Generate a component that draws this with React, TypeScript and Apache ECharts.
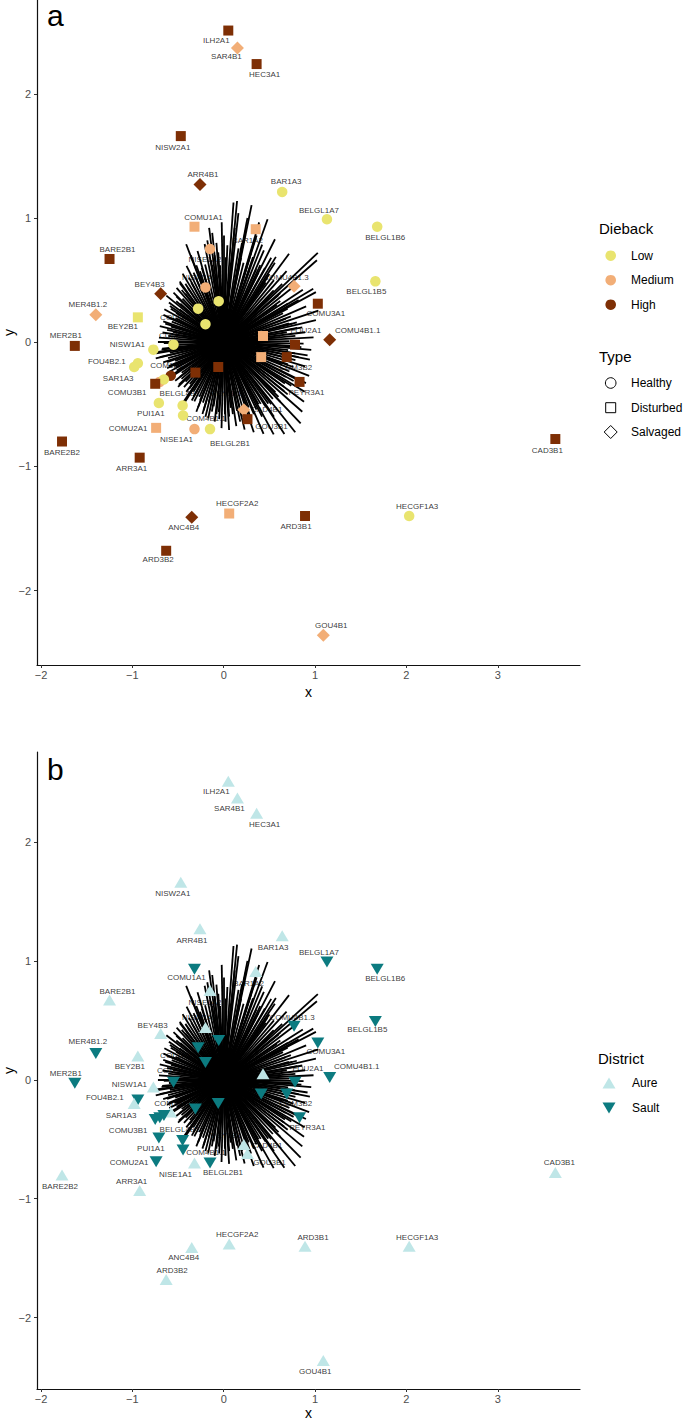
import React, { useEffect, useRef } from "react";
import * as echarts from "echarts";

// ---------- data ----------
const siteNames = [
  "ILH2A1", "SAR4B1", "HEC3A1", "NISW2A1", "ARR4B1", "BAR1A3", "BELGL1A7", "BELGL1B6",
  "COMU1A1", "BAR1A2", "NISE1A2", "BARE2B1", "BELGL1B5", "COMU4B1.3", "NISW1A2", "BEY4B3",
  "COL1A1", "COL2A1", "COMU3A1", "MER4B1.2", "BEY2B1", "COL1A2", "FOU2A2", "COMU4B1.1",
  "FOU2A1", "MER2B1", "COM2B1", "NISW1A1", "FOU1A1", "COM3B2", "FOU4B2.1", "SAR1A3",
  "PEY1B1", "COM2B2", "COM1B1", "SAR1A2", "PUI1A2", "COMU3B1", "PEYR3A1", "PUI1A1",
  "BELGL4B1", "CAD4B1", "COM4B1.1", "GOU3B1", "COMU2A1", "NISE1A1", "BELGL2B1", "CAD3B1",
  "BARE2B2", "ARR3A1", "HECGF2A2", "ARD3B1", "HECGF1A3", "ANC4B4", "ARD3B2", "GOU4B1",
];
const siteX = [
  0.05, 0.15, 0.36, -0.47, -0.26, 0.64, 1.13, 1.68,
  -0.32, 0.35, -0.15, -1.25, 1.66, 0.77, -0.2, -0.69,
  -0.055, -0.28, 1.03, -1.4, -0.94, -0.2, 0.43, 1.16,
  0.78, -1.63, -0.55, -0.77, 0.41, 0.69, -0.94, -0.98,
  -0.06, -0.31, -0.58, -0.7, -0.655, -0.75, 0.83, -0.71,
  -0.45, 0.22, -0.445, 0.26, -0.74, -0.32, -0.15, 3.63,
  -1.77, -0.92, 0.06, 0.89, 2.03, -0.35, -0.63, 1.09,
];
const siteY = [
  2.51, 2.37, 2.24, 1.66, 1.27, 1.21, 0.99, 0.93,
  0.93, 0.91, 0.75, 0.67, 0.49, 0.45, 0.44, 0.39,
  0.33, 0.27, 0.31, 0.22, 0.2, 0.145, 0.05, 0.02,
  -0.02, -0.03, -0.02, -0.06, -0.12, -0.12, -0.17, -0.2,
  -0.2, -0.245, -0.27, -0.32, -0.3, -0.335, -0.32, -0.49,
  -0.51, -0.545, -0.59, -0.62, -0.69, -0.7, -0.7, -0.78,
  -0.8, -0.93, -1.38, -1.4, -1.4, -1.41, -1.68, -2.36,
];
const siteType = [
  "Disturbed", "Salvaged", "Disturbed", "Disturbed", "Salvaged", "Healthy", "Healthy", "Healthy",
  "Disturbed", "Disturbed", "Healthy", "Disturbed", "Healthy", "Salvaged", "Healthy", "Salvaged",
  "Healthy", "Healthy", "Disturbed", "Salvaged", "Disturbed", "Healthy", "Disturbed", "Salvaged",
  "Disturbed", "Disturbed", "Healthy", "Healthy", "Disturbed", "Disturbed", "Healthy", "Healthy",
  "Disturbed", "Disturbed", "Healthy", "Healthy", "Healthy", "Disturbed", "Disturbed", "Healthy",
  "Healthy", "Salvaged", "Healthy", "Disturbed", "Disturbed", "Healthy", "Healthy", "Disturbed",
  "Disturbed", "Disturbed", "Disturbed", "Disturbed", "Healthy", "Salvaged", "Disturbed", "Salvaged",
];
const siteDieback = [
  "High", "Medium", "High", "High", "High", "Low", "Low", "Low",
  "Medium", "Medium", "Medium", "High", "Low", "Medium", "Medium", "High",
  "Low", "Low", "High", "Medium", "Low", "Low", "Medium", "High",
  "High", "High", "Low", "Low", "Medium", "High", "Low", "Low",
  "High", "High", "High", "Medium", "Low", "High", "High", "Low",
  "Low", "Medium", "Low", "High", "Medium", "Medium", "Low", "High",
  "High", "High", "Medium", "High", "Low", "High", "High", "Medium",
];
const siteDistrict = [
  "Aure", "Aure", "Aure", "Aure", "Aure", "Aure", "Sault", "Sault",
  "Sault", "Aure", "Aure", "Aure", "Sault", "Sault", "Aure", "Aure",
  "Sault", "Sault", "Sault", "Sault", "Aure", "Sault", "Aure", "Sault",
  "Sault", "Sault", "Sault", "Aure", "Sault", "Sault", "Sault", "Aure",
  "Sault", "Sault", "Aure", "Sault", "Sault", "Sault", "Sault", "Sault",
  "Sault", "Aure", "Sault", "Aure", "Sault", "Aure", "Sault", "Aure",
  "Aure", "Aure", "Aure", "Aure", "Aure", "Aure", "Aure", "Aure",
];

// species vectors (end points; every vector starts at the origin)
const speciesLoadings: number[][] = [
  [0.918, -0.107], [0.705, -0.064], [0.958, -0.062], [0.764, -0.029], [0.874, -0.011], [0.721, 0.009], [0.983, 0.038], [0.784, 0.05], [0.89, 0.08], [0.691, 0.08],
  [0.805, 0.115], [1.009, 0.178], [0.714, 0.151], [1.036, 0.255], [0.735, 0.208], [0.902, 0.289], [0.649, 0.233], [1.009, 0.403], [0.703, 0.311], [0.866, 0.422],
  [0.619, 0.331], [0.753, 0.441], [0.619, 0.396], [1.03, 0.72], [0.547, 0.417], [0.688, 0.573], [0.55, 0.5], [0.715, 0.712], [0.477, 0.52], [0.571, 0.687],
  [0.451, 0.599], [0.561, 0.829], [0.356, 0.589], [0.421, 0.786], [0.321, 0.685], [0.388, 0.965], [0.217, 0.64], [0.305, 1.104], [0.162, 0.756], [0.161, 1.04],
  [0.107, 1.125], [0.024, 0.684], [-0.022, 0.966], [-0.06, 0.723], [-0.126, 0.881], [-0.126, 0.621], [-0.209, 0.791], [-0.204, 0.626], [-0.287, 0.735], [-0.26, 0.572],
  [-0.411, 0.789], [-0.305, 0.517], [-0.407, 0.615], [-0.355, 0.481], [-0.45, 0.552], [-0.392, 0.436], [-0.482, 0.488], [-0.422, 0.391], [-0.516, 0.438], [-0.451, 0.35],
  [-0.519, 0.369], [-0.475, 0.31], [-0.628, 0.375], [-0.483, 0.263], [-0.589, 0.292], [-0.522, 0.235], [-0.65, 0.265], [-0.528, 0.194], [-0.619, 0.203], [-0.569, 0.165],
  [-0.662, 0.168], [-0.577, 0.126], [-0.7, 0.129], [-0.557, 0.083], [-0.67, 0.078], [-0.608, 0.051], [-0.709, 0.037], [-0.59, 0.011], [-0.656, -0.008], [-0.6, -0.027],
  [-0.674, -0.052], [-0.757, -0.083], [-0.59, -0.085], [-0.744, -0.131], [-0.609, -0.129], [-0.663, -0.163], [-0.531, -0.15], [-0.601, -0.193], [-0.54, -0.194], [-0.596, -0.238],
  [-0.515, -0.228], [-0.547, -0.267], [-0.46, -0.246], [-0.531, -0.311], [-0.462, -0.296], [-0.491, -0.343], [-0.418, -0.318], [-0.435, -0.362], [-0.371, -0.338], [-0.377, -0.375],
  [-0.458, -0.5], [-0.331, -0.398], [-0.329, -0.437], [-0.322, -0.476], [-0.267, -0.441], [-0.281, -0.524], [-0.228, -0.487], [-0.233, -0.579], [-0.164, -0.484], [-0.17, -0.615],
  [-0.111, -0.517], [-0.099, -0.64], [-0.054, -0.562], [-0.024, -0.692], [0.013, -0.58], [0.059, -0.707], [0.076, -0.529], [0.138, -0.677], [0.146, -0.553], [0.229, -0.704],
  [0.217, -0.557], [0.329, -0.725], [0.274, -0.526], [0.436, -0.738], [0.359, -0.543], [0.547, -0.743], [0.405, -0.497], [0.664, -0.739], [0.488, -0.495], [0.783, -0.725],
  [0.538, -0.456], [0.842, -0.654], [0.566, -0.403], [0.86, -0.56], [0.662, -0.395], [0.879, -0.479], [0.67, -0.333], [0.886, -0.399], [0.765, -0.312], [0.9, -0.33],
  [0.719, -0.236], [0.935, -0.272], [0.703, -0.178], [0.891, -0.194], [0.785, -0.144], [0.943, -0.141],
  [0.146, 1.137], [0.48, 0.99], [1.02, 0.66], [0.98, 0.43], [-0.48, 0.475], [-0.45, -0.51], [-0.74, -0.09],
  [0.8, 0.16], [0.7, 0.27], [0.6, 0.38], [0.5, 0.55], [0.4, 0.62], [0.3, 0.72], [0.2, 0.8], [0.1, 0.72], [0.0, 0.86], [-0.1, 0.7],
  [-0.16, 0.92], [-0.3, 0.62], [-0.36, 0.7], [-0.42, 0.47], [-0.55, 0.4], [-0.6, 0.32], [-0.66, 0.22], [-0.62, 0.1], [-0.68, -0.06], [-0.62, -0.16],
  [-0.56, -0.26], [-0.5, -0.36], [-0.4, -0.44], [-0.3, -0.56], [-0.2, -0.6], [-0.05, -0.62], [0.06, -0.6], [0.18, -0.64], [0.3, -0.62], [0.42, -0.6],
  [0.55, -0.6], [0.62, -0.48], [0.7, -0.42], [0.8, -0.3], [0.85, -0.04], [0.75, 0.15], [0.25, 0.6], [0.56, 0.64], [0.36, 0.86], [0.26, 1.0],
  [0.66, -0.12], [0.78, -0.09], [0.62, 0.04], [0.86, 0.12], [0.68, 0.19], [0.58, 0.3], [0.82, 0.34], [0.5, 0.36], [0.64, 0.47], [0.46, 0.48],
  [0.52, 0.68], [0.38, 0.56], [0.44, 0.74], [0.28, 0.58], [0.33, 0.8], [0.19, 0.68], [0.24, 0.9], [0.08, 0.64], [0.12, 0.92], [0.04, 0.78],
  [-0.04, 0.62], [-0.08, 0.8], [-0.14, 0.66], [-0.18, 0.82], [-0.24, 0.6], [-0.33, 0.56], [-0.38, 0.52], [-0.46, 0.42], [-0.52, 0.33], [-0.58, 0.27],
  [-0.56, 0.19], [-0.64, 0.15], [-0.54, 0.06], [-0.72, 0.0], [-0.57, -0.06], [-0.7, -0.12], [-0.52, -0.2], [-0.62, -0.21], [-0.48, -0.28], [-0.41, -0.4],
  [-0.35, -0.47], [-0.26, -0.47], [-0.22, -0.55], [-0.13, -0.56], [-0.08, -0.58], [0.02, -0.64], [0.1, -0.58], [0.2, -0.6], [0.25, -0.52], [0.33, -0.58],
  [0.38, -0.5], [0.46, -0.52], [0.52, -0.5], [0.6, -0.44], [0.66, -0.36], [0.74, -0.35], [0.68, -0.28], [0.76, -0.2], [0.64, -0.18], [0.82, -0.12],
];

const xTicks = [-2, -1, 0, 1, 2, 3];
const yTicks = [-2, -1, 0, 1, 2];
const diebackLevels = ["Low", "Medium", "High"];
const typeLevels = ["Healthy", "Disturbed", "Salvaged"];
const districtLevels = ["Aure", "Sault"];

// ---------- styles ----------
const FONT = "Liberation Sans, Arial, Helvetica, sans-serif";
const diebackColor: Record<string, string> = { Low: "#E9E46F", Medium: "#F2AE77", High: "#7E2F05" };
const districtColor: Record<string, string> = { Aure: "#BFE6E7", Sault: "#0C7B80" };
const typeSymbol: Record<string, string> = { Healthy: "circle", Disturbed: "rect", Salvaged: "diamond" };
const typeSize: Record<string, number> = { Healthy: 10.5, Disturbed: 10, Salvaged: 13 };

// label offsets (pixels) for panel a and panel b
const labelOffsetA: Record<string, number[]> = {
  ILH2A1: [-12, 10], SAR4B1: [-11, 9], HEC3A1: [8, 10], NISW2A1: [-8, 11], ARR4B1: [3, -10],
  BAR1A3: [4, -10], BELGL1A7: [-8, -9], BELGL1B6: [8, 11], COMU1A1: [9, -9], BAR1A2: [-8, 11],
  NISE1A2: [-5, 10], BARE2B1: [8, -9], BELGL1B5: [-9, 10], "COMU4B1.3": [-8, -9], NISW1A2: [-6, -10],
  BEY4B3: [-11, -9], COMU3A1: [8, 10], "MER4B1.2": [-8, -10], BEY2B1: [-15, 9], COL1A2: [-30, -7],
  "COMU4B1.1": [28, -9], FOU2A1: [11, -14], MER2B1: [-9, -10], COM2B1: [2, -9], NISW1A1: [-26, -5],
  COM3B2: [9, 10], "FOU4B2.1": [-31, -2], SAR1A3: [-16, 11], PEY1B1: [8, 26], COM1B1: [-4, -10],
  COMU3B1: [-28, 9], PEYR3A1: [7, 11], PUI1A1: [-8, 10], BELGL4B1: [-3, -12], CAD4B1: [23, 0],
  "COM4B1.1": [23, 3], GOU3B1: [24, 7], COMU2A1: [-28, 1], NISE1A1: [-18, 10], BELGL2B1: [20, 14],
  CAD3B1: [-8, 11], BARE2B2: [0, 11], ARR3A1: [-8, 11], HECGF2A2: [8, -10], ARD3B1: [-9, 10],
  HECGF1A3: [8, -10], ANC4B4: [-8, 10], ARD3B2: [-8, 9], GOU4B1: [8, -10],
};
const labelOffsetB: Record<string, number[]> = {
  ILH2A1: [-12, 10], SAR4B1: [-8, 11], HEC3A1: [8, 11], NISW2A1: [-8, 11], ARR4B1: [-8, 12],
  BAR1A3: [-9, 12], BELGL1A7: [-8, -10], BELGL1B6: [8, 9], COMU1A1: [-8, 8], BAR1A2: [-7, 12],
  NISE1A2: [-5, 12], BARE2B1: [8, -9], BELGL1B5: [-8, 8], "COMU4B1.3": [-2, -9], NISW1A2: [-6, -10],
  BEY4B3: [-8, -8], COMU3A1: [8, 9], "MER4B1.2": [-8, -12], BEY2B1: [-8, 11], COL1A2: [-30, -7],
  "COMU4B1.1": [27, -11], FOU2A1: [13, -14], MER2B1: [-9, -10], COM2B1: [0, -12], NISW1A1: [-24, -2],
  COM3B2: [9, 9], "FOU4B2.1": [-33, -2], SAR1A3: [-13, 12], PEY1B1: [8, 32], COM1B1: [0, -8],
  COMU3B1: [-27, 11], PEYR3A1: [8, 10], PUI1A1: [-8, 10], BELGL4B1: [-3, -11], CAD4B1: [23, 1],
  "COM4B1.1": [23, 3], GOU3B1: [22, 9], COMU2A1: [-27, 1], NISE1A1: [-19, 11], BELGL2B1: [13, 9],
  CAD3B1: [4, -10], BARE2B2: [-2, 12], ARR3A1: [-8, -9], HECGF2A2: [8, -9], ARD3B1: [8, -9],
  HECGF1A3: [8, -9], ANC4B4: [-8, 10], ARD3B2: [6, -9], GOU4B1: [-8, 11],
};

const fmt = (v: number) => (v < 0 ? "\u2212" + Math.abs(v) : String(v));

function makeX(idx: number, gap: number) {
  return {
    type: "value", gridIndex: idx, min: -2.044, max: 3.9,
    splitLine: { show: false },
    axisLine: { show: true, onZero: false, lineStyle: { color: "#111", width: 1.2 } },
    axisTick: { show: true, length: 3, customValues: xTicks, lineStyle: { color: "#333", width: 1 } },
    axisLabel: { customValues: xTicks, formatter: fmt, color: "#4D4D4D", fontSize: 11, margin: 4, fontFamily: FONT },
    name: "x", nameLocation: "middle", nameGap: gap, nameMoveOverlap: false,
    nameTextStyle: { fontSize: 14, color: "#000", fontFamily: FONT },
  };
}
function makeY(idx: number) {
  return {
    type: "value", gridIndex: idx, min: -2.6, max: 2.756,
    splitLine: { show: false },
    axisLine: { show: true, onZero: false, lineStyle: { color: "#111", width: 1.2 } },
    axisTick: { show: true, length: 3, customValues: yTicks, lineStyle: { color: "#333", width: 1 } },
    axisLabel: { customValues: yTicks, formatter: fmt, color: "#4D4D4D", fontSize: 11, margin: 6, fontFamily: FONT },
    name: "y", nameLocation: "middle", nameGap: 21, nameRotate: 90, nameMoveOverlap: false,
    nameTextStyle: { fontSize: 14, color: "#000", fontFamily: FONT },
  };
}

const labelText = {
  fontSize: 8, color: "#000", fontFamily: FONT,
  position: ["50%", "50%"], align: "center", verticalAlign: "middle",
};

function labelSeries(idx: number, offsets: Record<string, number[]>) {
  return {
    type: "scatter", xAxisIndex: idx, yAxisIndex: idx, z: 1, silent: true,
    symbolSize: 1, itemStyle: { color: "rgba(255,255,255,0)" },
    label: { show: true, formatter: "{b}", ...labelText },
    data: siteNames.map((n, i) => ({
      name: n, value: [siteX[i], siteY[i]],
      label: offsets[n] ? { show: true, offset: offsets[n], ...labelText } : { show: false },
    })),
  };
}
function vectorSeries(idx: number) {
  return {
    type: "lines", coordinateSystem: "cartesian2d", xAxisIndex: idx, yAxisIndex: idx, z: 2, silent: true,
    lineStyle: { color: "#000", width: 1.8, opacity: 1 },
    data: speciesLoadings.map((p) => ({ coords: [[0, 0], [p[0], p[1]]] })),
  };
}

export default function App() {
  const ref = useRef<HTMLDivElement>(null);
  useEffect(() => {
    if (!ref.current) return;
    const chart = echarts.init(ref.current, undefined, { renderer: "svg" });
    const pointsA = {
      type: "scatter", xAxisIndex: 0, yAxisIndex: 0, z: 3, silent: true,
      data: siteNames.map((n, i) => ({
        name: n, value: [siteX[i], siteY[i]],
        symbol: typeSymbol[siteType[i]], symbolSize: typeSize[siteType[i]],
        itemStyle: { color: diebackColor[siteDieback[i]], opacity: 1 },
      })),
    };
    const pointsB = {
      type: "scatter", xAxisIndex: 1, yAxisIndex: 1, z: 3, silent: true,
      data: siteNames.map((n, i) => ({
        name: n, value: [siteX[i], siteY[i]],
        symbol: "triangle", symbolSize: [13, 11],
        symbolRotate: siteDistrict[i] === "Sault" ? 180 : 0,
        itemStyle: { color: districtColor[siteDistrict[i]], opacity: 1 },
      })),
    };
    const txt = (text: string, x: number, y: number, size: number, extra: any = {}) => ({
      type: "text", x, y, z: 10,
      style: { text, fontSize: size, fill: "#000", fontFamily: FONT, verticalAlign: "middle", align: "left", ...extra },
    });
    const legendA: any[] = [
      txt("Dieback", 599, 228, 15),
      ...diebackLevels.map((lv, k) => ({ type: "circle", z: 10, shape: { cx: 610.7, cy: 255.7 + k * 24.5, r: 5.3 }, style: { fill: diebackColor[lv] } })),
      ...diebackLevels.map((lv, k) => txt(lv, 631, 255.7 + k * 24.5, 12)),
      txt("Type", 599, 356.5, 15),
      { type: "circle", z: 10, shape: { cx: 610.7, cy: 383, r: 5.3 }, style: { fill: "none", stroke: "#000", lineWidth: 1 } },
      { type: "rect", z: 10, shape: { x: 605.7, y: 402.7, width: 10, height: 10 }, style: { fill: "none", stroke: "#000", lineWidth: 1 } },
      { type: "polygon", z: 10, shape: { points: [[610.7, 425.5], [617.2, 432], [610.7, 438.5], [604.2, 432]] }, style: { fill: "none", stroke: "#000", lineWidth: 1 } },
      ...typeLevels.map((lv, k) => txt(lv, 631, 383 + k * 24.5, 12)),
    ];
    const legendB: any[] = [
      txt("District", 598, 1058, 15),
      { type: "polygon", z: 10, shape: { points: [[609, 1077.5], [615.5, 1088.5], [602.5, 1088.5]] }, style: { fill: districtColor.Aure } },
      { type: "polygon", z: 10, shape: { points: [[602.5, 1102.5], [615.5, 1102.5], [609, 1113.5]] }, style: { fill: districtColor.Sault } },
      ...districtLevels.map((lv, k) => txt(lv, 632, 1083 + k * 25, 12)),
    ];
    chart.setOption({
      animation: false,
      textStyle: { fontFamily: FONT },
      grid: [
        { left: 37, top: 0, width: 543, height: 665, outerBoundsMode: "none", containLabel: false },
        { left: 37, top: 752, width: 543, height: 637, outerBoundsMode: "none", containLabel: false },
      ],
      xAxis: [makeX(0, 20), makeX(1, 17)],
      yAxis: [makeY(0), makeY(1)],
      series: [labelSeries(0, labelOffsetA), vectorSeries(0), pointsA, labelSeries(1, labelOffsetB), vectorSeries(1), pointsB],
      graphic: [
        txt("a", 47, 15, 30),
        txt("b", 47, 769, 30),
        ...legendA,
        ...legendB,
      ],
    });
    return () => chart.dispose();
  }, []);
  return <div ref={ref} style={{ position: "absolute", left: 0, top: 0, width: 685, height: 1422, background: "#fff" }} />;
}
